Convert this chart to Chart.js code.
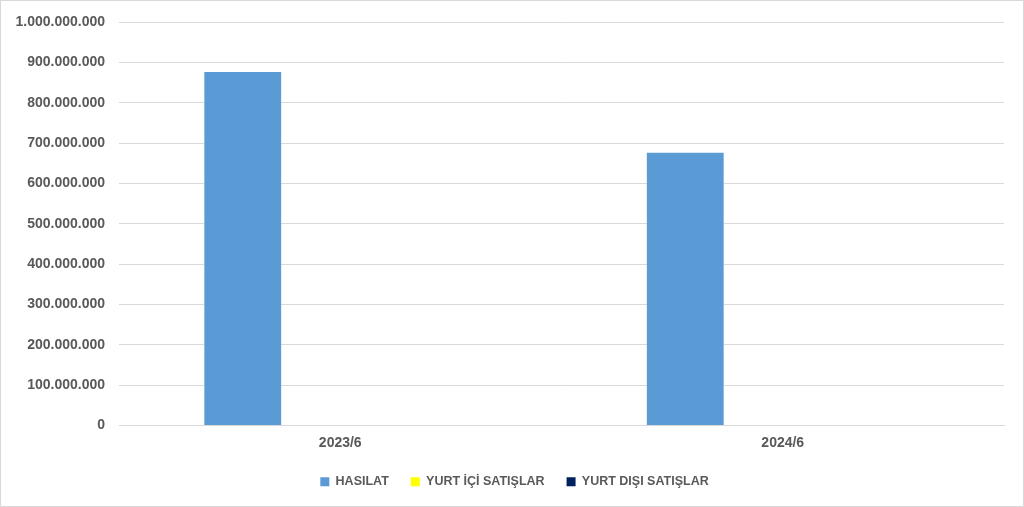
<!DOCTYPE html>
<html>
<head>
<meta charset="utf-8">
<script src="https://cdn.jsdelivr.net/npm/chart.js@4.4.1/dist/chart.umd.min.js"></script>
<style>
  html, body { margin: 0; padding: 0; background: #fff; }
  #wrap { position: relative; width: 1022px; height: 505px; border: 1px solid #d9d9d9; }
</style>
</head>
<body>
<div id="wrap"><canvas id="chart"></canvas></div>
<script>
const categories = ['2023/6', '2024/6'];
const hasilat = [876000000, 676000000];
const yurtIci = [0, 0];
const yurtDisi = [0, 0];
const seriesNames = ['HASILAT', 'YURT İÇİ SATIŞLAR', 'YURT DIŞI SATIŞLAR'];

function dotted(v) {
  return String(Math.round(v)).replace(/\B(?=(\d{3})+(?!\d))/g, '.');
}

const textColor = '#595959';
const fontFam = '"Liberation Sans", Arial, sans-serif';

// legend sits a bit right of the canvas centre in the original
const legendShift = {
  id: 'legendShift',
  afterLayout(chart) {
    if (chart.legend) { chart.legend.left += 12; chart.legend.right += 12; }
  }
};

new Chart(document.getElementById('chart'), {
  type: 'bar',
  data: {
    labels: categories,
    datasets: [
      { label: seriesNames[0], data: hasilat, backgroundColor: '#5b9bd5' },
      { label: seriesNames[1], data: yurtIci, backgroundColor: '#ffff00' },
      { label: seriesNames[2], data: yurtDisi, backgroundColor: '#002060' }
    ]
  },
  plugins: [legendShift],
  options: {
    responsive: true,
    maintainAspectRatio: false,
    animation: false,
    categoryPercentage: 0.661,
    barPercentage: 0.788,
    layout: { padding: { top: 8, right: 19, bottom: 8, left: 0 } },
    plugins: {
      tooltip: { enabled: false },
      legend: {
        position: 'bottom',
        labels: {
          boxWidth: 9, boxHeight: 9, padding: 22,
          color: textColor,
          font: { family: fontFam, size: 12.5, weight: 'bold' }
        }
      }
    },
    scales: {
      x: {
        grid: { display: false, drawTicks: false },
        border: { color: '#d9d9d9', width: 1 },
        ticks: { color: textColor, padding: 9, font: { family: fontFam, size: 14, weight: 'bold' } },
        afterFit: s => { s.height = 28; }
      },
      y: {
        min: 0, max: 1000000000,
        grid: { color: '#d9d9d9', lineWidth: 1, drawTicks: false },
        border: { display: false },
        ticks: {
          stepSize: 100000000, padding: 14, color: textColor,
          font: { family: fontFam, size: 14, weight: 'bold', lineHeight: 1 },
          callback: v => dotted(v)
        },
        afterFit: s => { s.width = 118; }
      }
    }
  }
});
</script>
</body>
</html>
